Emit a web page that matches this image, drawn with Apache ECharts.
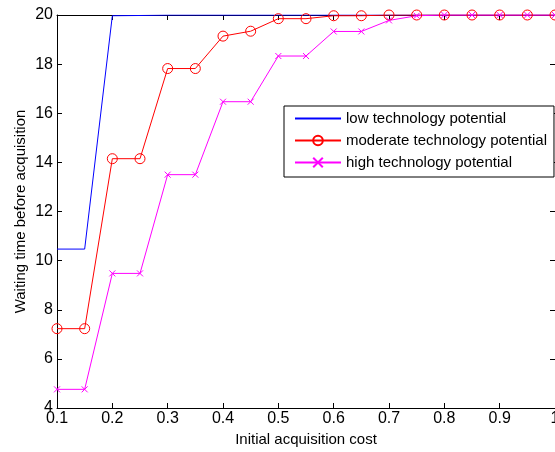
<!DOCTYPE html>
<html>
<head>
<meta charset="utf-8">
<script src="https://cdn.jsdelivr.net/npm/echarts@6/dist/echarts.min.js"></script>
<style>
  html, body { margin: 0; padding: 0; background: #fff; }
  #chart { width: 555px; height: 452px; }
</style>
</head>
<body>
<div id="chart"></div>
<script>
// acquisition cost steps
const costs = [0.1, 0.15, 0.2, 0.25, 0.3, 0.35, 0.4, 0.45, 0.5, 0.55, 0.6, 0.65, 0.7, 0.75, 0.8, 0.85, 0.9, 0.95, 1.0];
const lowTech = [10.47, 10.47, 19.97, 19.98, 20, 20, 20, 20, 20, 20, 20, 20, 20, 20, 20, 20, 20, 20, 20];
const moderateTech = [7.23, 7.23, 14.15, 14.15, 17.82, 17.82, 19.14, 19.34, 19.85, 19.85, 19.97, 19.97, 20, 20, 20, 20, 20, 20, 20];
const highTech = [4.76, 4.76, 9.48, 9.48, 13.5, 13.5, 16.47, 16.47, 18.33, 18.33, 19.33, 19.33, 19.78, 19.97, 20, 20, 20, 20, 20];
const seriesNames = ['low technology potential', 'moderate technology potential', 'high technology potential'];

const pair = arr => costs.map((c, i) => [c, arr[i]]);
const font = 'Liberation Sans, Arial, sans-serif';

const chart = echarts.init(document.getElementById('chart'));

const axisBase = {
  type: 'value',
  axisLine: { show: true, onZero: false, lineStyle: { color: '#000', width: 1 } },
  axisTick: { show: true, inside: true, length: 5, lineStyle: { color: '#000' } },
  splitLine: { show: false }
};

chart.setOption({
  animation: false,
  backgroundColor: '#fff',
  grid: { left: 57, top: 15, width: 498, height: 393, containLabel: false, outerBoundsMode: 'none' },
  xAxis: [
    {
      ...axisBase,
      min: 0.1, max: 1, interval: 0.1,
      name: 'Initial acquisition cost',
      nameLocation: 'middle',
      nameGap: 24,
      nameTextStyle: { color: '#000', fontSize: 15, fontFamily: font },
      axisLabel: {
        color: '#000', fontSize: 16, fontFamily: font, margin: 3,
        formatter: v => String(+v.toFixed(1))
      }
    },
    { ...axisBase, position: 'top', min: 0.1, max: 1, interval: 0.1, axisLabel: { show: false } }
  ],
  yAxis: [
    {
      ...axisBase,
      min: 4, max: 20, interval: 2,
      name: 'Waiting time before acquisition',
      nameLocation: 'middle',
      nameGap: 29,
      nameMoveOverlap: false,
      nameTextStyle: { color: '#000', fontSize: 15, fontFamily: font },
      axisLabel: { color: '#000', fontSize: 16, fontFamily: font, margin: 4 }
    },
    { ...axisBase, position: 'right', min: 4, max: 20, interval: 2, axisLabel: { show: false } }
  ],
  legend: {
    left: 284, top: 106,
    orient: 'vertical',
    backgroundColor: '#fff',
    borderColor: '#000', borderWidth: 1,
    padding: [5, 7, 7, 10],
    itemWidth: 46, itemHeight: 12, itemGap: 7,
    textStyle: { color: '#000', fontSize: 15, fontFamily: font },
    data: [
      { name: seriesNames[0], itemStyle: { color: 'rgba(0,0,0,0)', borderWidth: 0 } },
      seriesNames[1],
      seriesNames[2]
    ]
  },
  series: [
    {
      name: seriesNames[0], type: 'line', data: pair(lowTech),
      symbol: 'none', lineStyle: { color: '#0000ff', width: 1 },
      itemStyle: { color: '#0000ff' }
    },
    {
      name: seriesNames[1], type: 'line', data: pair(moderateTech),
      symbol: 'circle', symbolSize: 10,
      lineStyle: { color: '#ff0000', width: 1 },
      itemStyle: { color: 'rgba(0,0,0,0)', borderColor: '#ff0000', borderWidth: 1 }
    },
    {
      name: seriesNames[2], type: 'line', data: pair(highTech),
      symbol: 'path://M0,0L10,10M10,0L0,10', symbolSize: 6,
      lineStyle: { color: '#ff00ff', width: 1 },
      itemStyle: { color: 'rgba(0,0,0,0)', borderColor: '#ff00ff', borderWidth: 1 }
    }
  ]
});
</script>
</body>
</html>
